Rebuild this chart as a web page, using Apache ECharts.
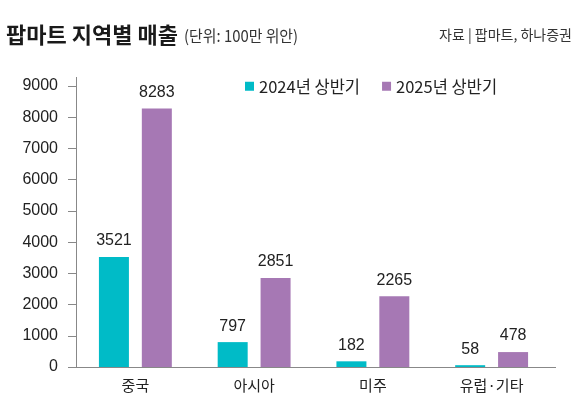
<!DOCTYPE html>
<html>
<head>
<meta charset="utf-8">
<script src="https://cdn.jsdelivr.net/npm/echarts@6/dist/echarts.min.js"></script>
<style>
  html, body { margin: 0; padding: 0; background: #fff; }
  #chart { width: 576px; height: 407px; }
</style>
</head>
<body>
<div id="chart"></div>
<script>
var regions = ['중국', '아시아', '미주', '유럽·기타'];
var sales2024 = [3521, 797, 182, 58];
var sales2025 = [8283, 2851, 2265, 478];
var seriesNames = ['2024년 상반기', '2025년 상반기'];
var yTicks = { min: 0, max: 9000, interval: 1000 };

var font = '"Noto Sans CJK KR", "Noto Sans", sans-serif';
var numFont = '"Liberation Sans", Arial, sans-serif';
var chart = echarts.init(document.getElementById('chart'));

var option = {
    backgroundColor: '#fff',
    color: ['#00BBC7', '#A678B4'],
    textStyle: { fontFamily: font },
    legend: {
        left: 240, top: 73,
        icon: 'rect',
        itemWidth: 9, itemHeight: 9,
        itemGap: 22,
        textStyle: { fontSize: 16.5, color: '#222', fontFamily: font },
        data: seriesNames
    },
    grid: { left: 76, top: 86, width: 475, bottom: 40, containLabel: false },
    xAxis: {
        type: 'category',
        data: regions,
        axisLine: { lineStyle: { color: '#888', width: 1 } },
        axisTick: { show: false },
        axisLabel: { fontSize: 15, color: '#222', margin: 11, fontFamily: font }
    },
    yAxis: {
        type: 'value',
        min: yTicks.min, max: yTicks.max, interval: yTicks.interval,
        axisLine: { show: true, lineStyle: { color: '#888', width: 1 } },
        axisTick: { show: true, length: 8, lineStyle: { color: '#888' } },
        splitLine: { show: false },
        axisLabel: {
            fontSize: 16, color: '#222', margin: 18,
            fontFamily: numFont,
            formatter: function (v) { return String(v); }
        }
    },
    series: [
        {
            name: seriesNames[0], type: 'bar',
            data: sales2024, barWidth: 30, barGap: '43%',
            label: { show: true, position: 'top', distance: 8, fontSize: 16, color: '#222', fontFamily: numFont }
        },
        {
            name: seriesNames[1], type: 'bar',
            data: sales2025, barWidth: 30,
            label: { show: true, position: 'top', distance: 8, fontSize: 16, color: '#222', fontFamily: numFont }
        }
    ],
    graphic: [
        {
            type: 'text', x: 6, y: 35,
            style: { text: '팝마트 지역별 매출', font: 'bold 22px ' + font, fill: '#1a1a1a', textVerticalAlign: 'middle' }
        },
        {
            type: 'text', x: 184, y: 36, scaleX: 0.93,
            style: { text: '(단위: 100만 위안)', font: '16px ' + font, fill: '#333', textVerticalAlign: 'middle' }
        },
        {
            type: 'text', x: 572, y: 35,
            style: { text: '자료 | 팝마트, 하나증권', font: '14px ' + font, fill: '#333', textAlign: 'right', textVerticalAlign: 'middle' }
        },
        // 축 끝 연장선
        { type: 'line', shape: { x1: 76.5, y1: 77, x2: 76.5, y2: 86 }, style: { stroke: '#888', lineWidth: 1 } },
        { type: 'line', shape: { x1: 551, y1: 367.5, x2: 556, y2: 367.5 }, style: { stroke: '#888', lineWidth: 1 } }
    ]
};

chart.setOption(option);
</script>
</body>
</html>
